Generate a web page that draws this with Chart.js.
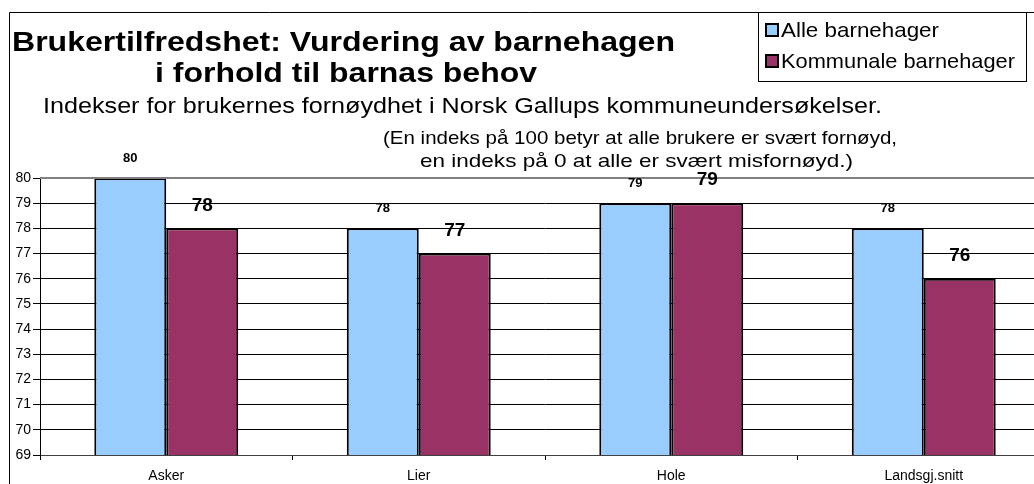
<!DOCTYPE html>
<html>
<head>
<meta charset="utf-8">
<script src="https://cdn.jsdelivr.net/npm/chart.js@4/dist/chart.umd.min.js"></script>
<style>
  html, body { margin: 0; padding: 0; background: #fff; overflow: hidden; }
  #wrap { width: 1034px; height: 484px; overflow: hidden; }
</style>
</head>
<body>
<div id="wrap"><canvas id="chart" width="1050" height="484"></canvas></div>
<script>
// data
const categories = ['Asker', 'Lier', 'Hole', 'Landsgj.snitt'];
const alleBarnehager = [80, 78, 79, 78];
const kommunaleBarnehager = [78, 77, 79, 76];
const yTicks = [69, 70, 71, 72, 73, 74, 75, 76, 77, 78, 79, 80];

const FONT = '"Liberation Sans", Arial, sans-serif';

// tegner tekst strukket til gitt bredde (originalen er litt bred i skriften)
function fitText(ctx, text, left, right, baseline, font) {
    ctx.font = font;
    const w = ctx.measureText(text).width;
    const sx = (right - left) / w;
    ctx.save();
    ctx.translate(left, baseline);
    ctx.scale(sx, 1);
    ctx.textAlign = 'left';
    ctx.textBaseline = 'alphabetic';
    ctx.fillText(text, 0, 0);
    ctx.restore();
}

// tekst, legende og ramme rundt diagrammet
const decorPlugin = {
    id: 'decor',
    beforeDraw(chart) {
        const ctx = chart.ctx;
        ctx.save();
        ctx.fillStyle = '#fff';
        ctx.fillRect(0, 0, chart.width, chart.height);

        // ytre ramme
        ctx.strokeStyle = '#000';
        ctx.lineWidth = 1;
        ctx.beginPath();
        ctx.moveTo(9.5, chart.height);
        ctx.lineTo(9.5, 12.5);
        ctx.lineTo(chart.width, 12.5);
        ctx.stroke();
        ctx.restore();
    },
    afterDraw(chart) {
        const ctx = chart.ctx;
        ctx.save();
        ctx.fillStyle = '#000';

        // tittel
        fitText(ctx, 'Brukertilfredshet: Vurdering av barnehagen', 12, 675, 51, 'bold 27px ' + FONT);
        fitText(ctx, 'i forhold til barnas behov', 155, 537, 82, 'bold 27px ' + FONT);

        // undertittel
        fitText(ctx, 'Indekser for brukernes fornøydhet i Norsk Gallups kommuneundersøkelser.', 43, 882, 113, '22px ' + FONT);
        fitText(ctx, '(En indeks på 100 betyr at alle brukere er svært fornøyd,', 383, 897, 144, '19px ' + FONT);
        fitText(ctx, 'en indeks på 0 at alle er svært misfornøyd.)', 420, 853, 167, '19px ' + FONT);

        // legende
        ctx.fillStyle = '#fff';
        ctx.fillRect(758, 12, 268, 69);
        ctx.strokeStyle = '#000';
        ctx.lineWidth = 1;
        ctx.strokeRect(758.5, 12.5, 268, 69);
        const items = [
            { label: 'Alle barnehager', color: '#99CCFF', y: 37, right: 939 },
            { label: 'Kommunale barnehager', color: '#993366', y: 68, right: 1015 }
        ];
        items.forEach(it => {
            ctx.fillStyle = it.color;
            ctx.fillRect(766, it.y - 13, 12, 12);
            ctx.lineWidth = 2;
            ctx.strokeStyle = '#000';
            ctx.strokeRect(766, it.y - 13, 12, 12);
            ctx.fillStyle = '#000';
            fitText(ctx, it.label, 781, it.right, it.y, '21px ' + FONT);
        });

        // verdier over søylene
        ctx.textAlign = 'center';
        ctx.textBaseline = 'middle';
        chart.data.datasets.forEach((ds, i) => {
            const meta = chart.getDatasetMeta(i);
            ctx.font = (i === 0 ? 'bold 13px ' : 'bold 19px ') + FONT;
            const lift = i === 0 ? 20 : 23;
            meta.data.forEach((bar, j) => {
                ctx.fillText(String(ds.data[j]), bar.x, bar.y - lift);
            });
        });
        ctx.restore();
    }
};

// grå linje langs toppen av plottområdet
const frameLines = {
    id: 'frameLines',
    afterDatasetsDraw(chart) {
        const { ctx, chartArea } = chart;
        ctx.save();
        ctx.strokeStyle = '#808080';
        ctx.lineWidth = 2;
        ctx.beginPath();
        ctx.moveTo(chartArea.left, chartArea.top);
        ctx.lineTo(chartArea.right, chartArea.top);
        ctx.stroke();
        ctx.restore();
    }
};

new Chart(document.getElementById('chart'), {
    type: 'bar',
    data: {
        labels: categories,
        datasets: [
            {
                label: 'Alle barnehager',
                data: alleBarnehager,
                backgroundColor: '#99CCFF',
                borderColor: '#000',
                borderWidth: 2,
                borderSkipped: false
            },
            {
                label: 'Kommunale barnehager',
                data: kommunaleBarnehager,
                backgroundColor: '#993366',
                borderColor: '#000',
                borderWidth: 2,
                borderSkipped: false
            }
        ]
    },
    options: {
        responsive: false,
        animation: false,
        events: [],
        layout: { padding: { left: 0, right: 0, top: 178, bottom: 0 } },
        plugins: {
            legend: { display: false },
            tooltip: { enabled: false }
        },
        datasets: {
            bar: { barPercentage: 1, categoryPercentage: 0.57 }
        },
        scales: {
            x: {
                grid: {
                    drawOnChartArea: false,
                    drawTicks: true,
                    tickLength: 5,
                    color: '#000'
                },
                border: { color: '#404040', width: 1 },
                ticks: {
                    color: '#000',
                    font: { family: FONT, size: 14 },
                    padding: 8
                },
                afterFit(scale) { scale.height = 29; }
            },
            y: {
                min: 69,
                max: 80,
                afterBuildTicks(scale) {
                    scale.ticks = yTicks.map(v => ({ value: v }));
                },
                grid: {
                    color: '#000',
                    lineWidth: 1,
                    tickLength: 7,
                    drawTicks: true
                },
                border: { color: '#000', width: 1 },
                ticks: {
                    color: '#000',
                    font: { family: FONT, size: 14 },
                    padding: 2
                },
                afterFit(scale) { scale.width = 40; }
            }
        }
    },
    plugins: [decorPlugin, frameLines]
});
</script>
</body>
</html>
